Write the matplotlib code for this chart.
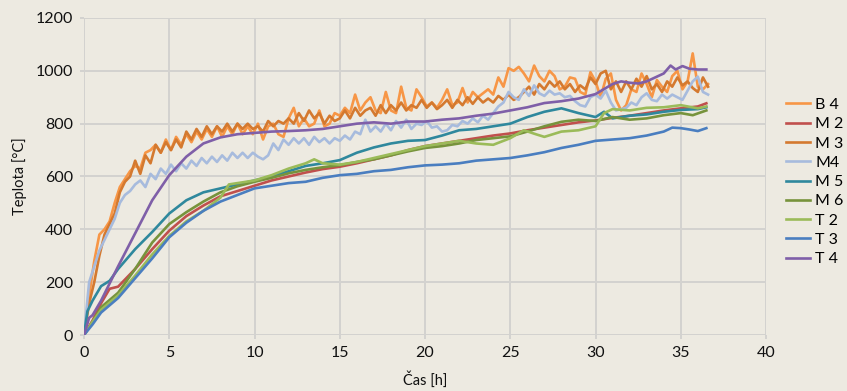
import numpy as np
import matplotlib.pyplot as plt

# fire test temperatures, sensors B/M/T
labels = ["B 4", "M 2", "M 3", "M4", "M 5", "M 6", "T 2", "T 3", "T 4"]
colors = ["#F79646", "#C0504D", "#D4792F", "#A7BBDD", "#2F889D",
          "#77933C", "#9BBB59", "#4A7EC0", "#7F5FA8"]

# noisy sensors, sampled every 0.3 h
step_fine = 0.3
b4 = [0, 150, 280, 380, 400, 430, 500, 560, 590, 620, 640, 630, 690, 700, 720, 690,
      740, 700, 750, 720, 760, 730, 770, 740, 780, 750, 790, 750, 790, 760, 800, 760,
      790, 760, 800, 740, 790, 800, 760, 750, 820, 860, 790, 820, 790, 800, 850, 790,
      800, 840, 830, 860, 840, 910, 850, 880, 900, 850, 840, 920, 850, 840, 940, 860,
      850, 930, 900, 865, 880, 860, 890, 930, 870, 880, 935, 880, 920, 900, 915, 930,
      910, 975, 940, 1010, 1000, 1015, 990, 960, 1020, 980, 960, 1000, 980, 930, 940, 975,
      970, 920, 910, 995, 960, 900, 970, 990, 890, 850, 870, 930, 920, 990, 950, 900,
      965, 940, 920, 980, 1000, 930, 960, 1066, 940, 930, 950]
m3 = [0, 120, 200, 300, 380, 420, 460, 540, 580, 600, 660, 610, 680, 650, 720, 690,
      730, 700, 740, 710, 770, 740, 780, 750, 790, 760, 790, 770, 800, 770, 800, 780,
      800, 780, 790, 770, 810, 790, 810, 800, 820, 800, 840, 810, 850, 820, 840, 800,
      830, 810, 820, 850, 820, 860, 830, 850, 860, 830, 870, 840, 870, 850, 880, 850,
      870, 860, 890, 860, 880, 855, 870, 890, 860, 890, 870, 900, 875, 900, 880, 895,
      880, 905, 890, 910, 890, 900, 920, 940, 910, 950, 930, 960, 940, 960, 930, 950,
      920, 945, 930, 975, 950, 990, 1000, 930, 960, 920, 960, 930, 970, 940, 980, 930,
      950, 920, 960, 940, 975, 945, 960, 935, 920, 975, 940]
m4 = [0, 200, 260, 320, 360, 400, 440, 500, 530, 545, 570, 585, 560, 610, 590, 630,
      610, 645, 620, 650, 630, 660, 640, 670, 650, 675, 655, 680, 660, 690, 670, 690,
      670, 690, 675, 665, 680, 725, 700, 740, 720, 745, 725, 745, 720, 750, 730, 745,
      725, 745, 735, 755, 740, 770, 760, 815, 770, 790, 770, 800, 775, 810, 785, 815,
      780, 800, 795, 810, 785, 790, 770, 775, 795, 790, 810, 800, 820, 805, 830, 815,
      840, 865, 880, 920, 900, 890, 930, 905, 945, 915, 905, 925, 910, 915, 900, 905,
      885, 870, 865, 900, 910, 895, 925, 880, 850, 855, 860, 880, 870, 900, 915, 890,
      885, 910, 895, 910, 900, 890, 925, 960, 978, 920, 910]

# smoother sensors
t_m2 = [0, 0.5, 1, 1.5, 2, 3, 4, 5, 6, 7, 8, 9, 10, 11, 12, 13, 14, 15, 16, 17, 18, 19,
        20, 21, 22, 23, 24, 25, 26, 27, 28, 29, 30, 31, 32, 33, 34, 35, 36, 36.5]
m2 = [0, 55, 120, 175, 183, 250, 325, 395, 450, 490, 525, 545, 565, 585, 600, 615, 628,
      637, 650, 665, 680, 700, 715, 725, 735, 745, 755, 763, 775, 785, 795, 805, 812,
      822, 830, 840, 850, 858, 865, 877]

t_m5 = [0, 0.2, 0.5, 1, 1.5, 2, 3, 4, 5, 6, 7, 8, 9, 10, 11, 12, 13, 14, 15, 16, 17, 18,
        19, 20, 21, 22, 23, 24, 25, 26, 27, 28, 29, 30, 30.5, 31, 32, 33, 34, 35, 36, 36.5]
m5 = [0, 90, 130, 185, 205, 250, 325, 390, 460, 510, 540, 555, 570, 585, 600, 620, 640,
      650, 662, 690, 710, 725, 735, 738, 755, 775, 780, 790, 800, 825, 845, 858, 840,
      825, 845, 820, 830, 835, 845, 852, 855, 862]

t_m6 = [0, 0.5, 1, 2, 3, 4, 5, 6, 7, 8, 9, 10, 11, 12, 13, 14, 15, 16, 17, 18, 19, 20,
        21, 22, 23, 24, 25, 26, 27, 28, 29, 30, 31, 32, 33, 34, 35, 35.7, 36.5]
m6 = [0, 50, 105, 160, 250, 350, 420, 465, 505, 540, 563, 580, 595, 612, 625, 635, 643,
      655, 665, 680, 695, 708, 715, 725, 738, 745, 752, 770, 790, 807, 815, 810, 825,
      815, 820, 832, 840, 832, 850]

t_t2 = [0, 0.5, 1, 2, 3, 4, 5, 6, 7, 8, 8.5, 9, 10, 11, 12, 13, 13.5, 14, 15, 16, 17,
        18, 19, 20, 21, 22, 23, 24, 25, 25.8, 26.5, 27, 28, 29, 30, 30.5, 31, 32, 33, 34,
        35, 36, 36.5]
t2 = [0, 50, 95, 150, 225, 305, 375, 430, 470, 520, 570, 575, 585, 605, 630, 650, 665,
      650, 645, 655, 670, 685, 700, 715, 725, 735, 725, 720, 745, 775, 760, 750, 770,
      775, 790, 840, 855, 850, 860, 862, 870, 858, 865]

t_t3 = [0, 0.5, 1, 2, 3, 4, 5, 6, 7, 8, 9, 10, 11, 12, 13, 14, 15, 16, 17, 18, 19, 20,
        21, 22, 23, 24, 25, 26, 27, 28, 29, 30, 31, 32, 33, 34, 34.5, 35, 35.5, 36, 36.5]
t3 = [0, 40, 85, 140, 215, 290, 370, 425, 470, 505, 530, 555, 565, 575, 580, 595, 605,
      610, 620, 625, 635, 642, 645, 650, 660, 665, 670, 680, 692, 708, 720, 735, 740,
      745, 755, 770, 785, 783, 778, 772, 783]

t_t4 = [0, 0.3, 0.5, 1, 2, 3, 4, 5, 6, 7, 8, 9, 10, 11, 12, 13, 14, 15, 16, 17, 18, 19,
        20, 21, 22, 23, 24, 25, 26, 27, 28, 29, 30, 31, 31.5, 32, 32.5, 33, 33.5, 34,
        34.4, 34.7, 35.1, 35.5, 36, 36.5]
t4 = [0, 65, 75, 130, 260, 385, 510, 605, 675, 725, 748, 760, 765, 770, 772, 775, 780,
      790, 800, 805, 800, 808, 808, 815, 820, 830, 838, 850, 862, 878, 885, 895, 912,
      950, 960, 955, 952, 960, 975, 990, 1020, 1005, 1018, 1008, 1005, 1005]

x_ticks = [0, 5, 10, 15, 20, 25, 30, 35, 40]
y_ticks = [0, 200, 400, 600, 800, 1000, 1200]

series = [
    (step_fine * np.arange(len(b4)), b4),
    (t_m2, m2),
    (step_fine * np.arange(len(m3)), m3),
    (step_fine * np.arange(len(m4)), m4),
    (t_m5, m5),
    (t_m6, m6),
    (t_t2, t2),
    (t_t3, t3),
    (t_t4, t4),
]

bg = "#EDEAE1"
grid_c = "#D3D2CF"
plt.rcParams['font.family'] = ['Lato', 'DejaVu Sans']

fig = plt.figure(figsize=(8.47, 3.91), dpi=100, facecolor=bg)
ax = fig.add_axes([0.0992, 0.1432, 0.8052, 0.8108], facecolor=bg)

for (t, v), lab, c in zip(series, labels, colors):
    ax.plot(t, v, color=c, lw=1.9, label=lab, solid_joinstyle='round')

ax.set_xlim(0, 40)
ax.set_ylim(0, 1200)
ax.set_xticks(x_ticks)
ax.set_yticks(y_ticks)
ax.grid(True, color=grid_c, lw=1.4)
ax.set_axisbelow(True)
for s in ax.spines.values():
    s.set_visible(False)
ax.tick_params(colors=grid_c, length=3, width=1.4, labelcolor="#111111",
               labelsize=11.5, pad=5)

ax.set_xlabel("Čas [h]", fontsize=10.5, color="#111111", labelpad=8)
ax.set_ylabel("Teplota [°C]", fontsize=10.5, color="#111111", labelpad=6)

fig.legend(loc='upper left', bbox_to_anchor=(0.9285, 0.75), frameon=False,
           borderpad=0, borderaxespad=0, handlelength=1.5, handletextpad=0.3,
           labelspacing=0.32, fontsize=11.5)

fig.savefig("out.png", dpi=100, facecolor=bg)
